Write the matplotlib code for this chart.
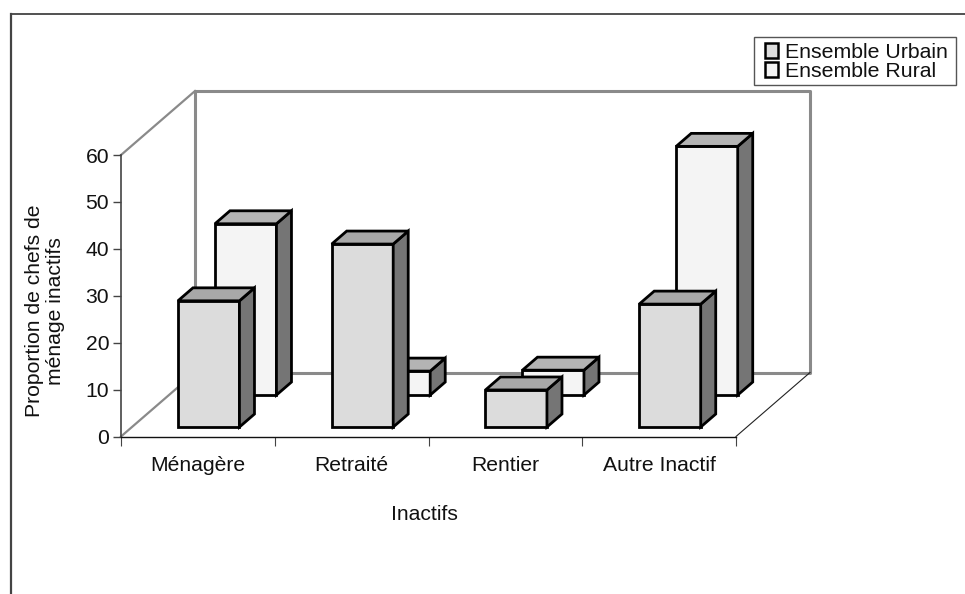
import matplotlib
matplotlib.use("Agg")
import matplotlib.pyplot as plt
from matplotlib.patches import Polygon, Patch, Rectangle
from matplotlib.lines import Line2D

categories = ["Ménagère", "Retraité", "Rentier", "Autre Inactif"]
urbain = [26.9, 39.0, 7.9, 26.2]
rural = [36.5, 5.1, 5.3, 53.0]
series_names = ["Ensemble Urbain", "Ensemble Rural"]
yticks = [0, 10, 20, 30, 40, 50, 60]

plt.rcParams["font.family"] = ["Liberation Sans", "DejaVu Sans"]
W, H = 965, 594
FS = 15.2
fig = plt.figure(figsize=(W / 100, H / 100), dpi=100, facecolor="white")
L, R, T, B = 121, 736, 155, 436.5
ax = fig.add_axes([L / W, 1 - B / H, (R - L) / W, (B - T) / H])
ax.set_xlim(0, 4)
ax.set_ylim(0, 60)
ax.patch.set_visible(False)
for s in ("top", "right"):
    ax.spines[s].set_visible(False)
ax.spines["left"].set_color("#444444")
ax.spines["left"].set_linewidth(1.2)
ax.spines["bottom"].set_color("#111111")
ax.spines["bottom"].set_linewidth(1.0)

PX = 4 / (R - L)
PY = 60 / (B - T)
DX = 74 * PX      # full depth of the floor, in x units
DY = 64 * PY      # full depth of the floor, in y units

def pt(x, y, d=0.0):
    return (x + d * DX, y + d * DY)

# walls
wall = dict(color="#8a8a8a", solid_capstyle="projecting", clip_on=False, zorder=1)
ax.plot(*zip(pt(0, 0, 1), pt(0, 60, 1), pt(4, 60, 1), pt(4, 0, 1), pt(0, 0, 1)), lw=2.2, **wall)
ax.plot(*zip(pt(0, 60), pt(0, 60, 1)), lw=1.6, **wall)
ax.plot(*zip(pt(0, 0), pt(0, 0, 1)), lw=1.6, **wall)
ax.plot(*zip(pt(4, 0), pt(4, 0, 1)), lw=0.8, color="#222222", clip_on=False, zorder=1)

BAR_W = 61.5 * PX
OFFSET = 46 * PX
FRONT = {"u": 0.148, "r": 0.648}
THICK = 0.203
COL_FRONT = {"u": "#dcdcdc", "r": "#f4f4f4"}
COL_TOP = {"u": "#a8a8a8", "r": "#b4b4b4"}
COL_SIDE = "#757575"

def bar3d(i, v, key, z):
    x0 = i + OFFSET
    x1 = x0 + BAR_W
    d0 = FRONT[key]
    d1 = d0 + THICK
    style = dict(edgecolor="black", linewidth=2.0, joinstyle="miter", clip_on=False, zorder=z)
    ax.add_patch(Polygon([pt(x0, 0, d0), pt(x1, 0, d0), pt(x1, v, d0), pt(x0, v, d0)],
                         facecolor=COL_FRONT[key], **style))
    ax.add_patch(Polygon([pt(x1, 0, d0), pt(x1, 0, d1), pt(x1, v, d1), pt(x1, v, d0)],
                         facecolor=COL_SIDE, **style))
    ax.add_patch(Polygon([pt(x0, v, d0), pt(x1, v, d0), pt(x1, v, d1), pt(x0, v, d1)],
                         facecolor=COL_TOP[key], **style))

for i, v in enumerate(rural):
    bar3d(i, v, "r", 3 + i * 0.1)
for i, v in enumerate(urbain):
    bar3d(i, v, "u", 5 + i * 0.1)

ax.set_yticks(yticks)
ax.set_xticks(range(5))
ax.set_xticklabels([])
ax.set_xticks([i + 0.5 for i in range(4)], minor=True)
ax.set_xticklabels(categories, minor=True, fontsize=FS, color="#111111")
ax.tick_params(axis="x", which="major", length=6.5, width=0.8, color="#444444")
ax.tick_params(axis="x", which="minor", length=0, pad=14)
ax.tick_params(axis="y", length=5.5, width=1.0, color="#444444", labelsize=FS,
               labelcolor="#111111", pad=3)

fig.text(424 / W, 1 - 515 / H, "Inactifs", ha="center", va="center", fontsize=FS, color="#111111")
fig.text(45 / W, 1 - 311 / H, "Proportion de chefs de\nménage inactifs", ha="center", va="center",
         rotation=90, fontsize=FS, color="#111111", linespacing=1.08)

# outer chart frame, cropped on the right and bottom
fig.add_artist(Line2D([11 / W, 1], [1 - 14 / H, 1 - 14 / H], color="#222222", lw=1.1))
fig.add_artist(Line2D([11 / W, 11 / W], [0, 1 - 14 / H], color="#444444", lw=1.6))

# legend box, drawn apart so that its padding can differ in x and y
fig.add_artist(Rectangle((754 / W, 1 - 84.5 / H), 202 / W, 47.8 / H, transform=fig.transFigure,
                         facecolor="white", edgecolor="#555555", linewidth=1.0, zorder=8))
handles = [Patch(facecolor=COL_FRONT["u"], edgecolor="black", linewidth=1.8),
           Patch(facecolor=COL_FRONT["r"], edgecolor="black", linewidth=1.8)]
leg = fig.legend(handles, series_names, loc="upper left",
                 bbox_to_anchor=(764.5 / W, 1 - 43 / H), borderaxespad=0, borderpad=0,
                 fontsize=FS + 0.1, frameon=False,
                 handlelength=0.65, handleheight=0.65, handletextpad=0.3,
                 labelspacing=0.0)
leg.set_zorder(9)
for t in leg.get_texts():
    t.set_color("#111111")

fig.savefig("out.png", dpi=100, facecolor="white")
